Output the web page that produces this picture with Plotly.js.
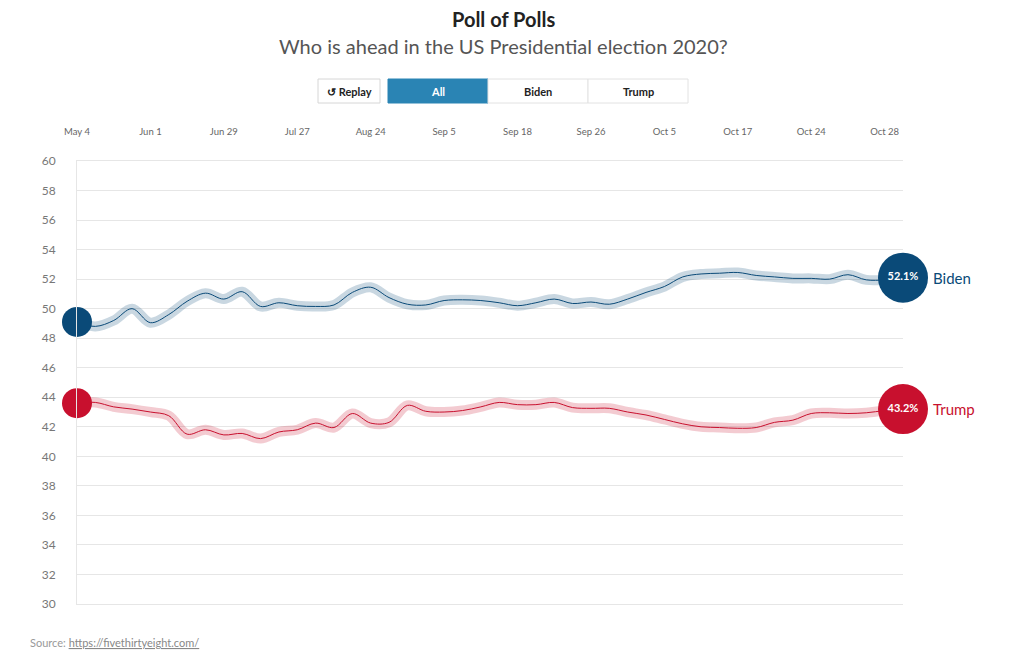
<!DOCTYPE html>
<html>
<head>
<meta charset="utf-8">
<script src="https://cdn.plot.ly/plotly-3.0.1.min.js"></script>
<style>
  html, body { margin: 0; padding: 0; background: #fff; }
  #chart { width: 1020px; height: 650px; }
</style>
</head>
<body>
<div id="chart"></div>
<script>
// ---- data ----
const pointIndex = [0,1,2,3,4,5,6,7,8,9,10,11,12,13,14,15,16,17,18,19,20,21,22,23,24,25,26,27,28,29,30,31,32,33,34,35,36,37,38,39,40,41,42,43,44,45];
const bidenValues = [49.1,48.8,49.2,50.0,49.05,49.6,50.5,51.05,50.65,51.15,50.15,50.4,50.2,50.15,50.25,51.1,51.45,50.75,50.3,50.25,50.55,50.6,50.55,50.4,50.2,50.4,50.65,50.35,50.45,50.3,50.65,51.1,51.5,52.15,52.35,52.4,52.45,52.25,52.15,52.05,52.05,52.0,52.3,51.95,51.95,52.1];
const trumpValues = [43.6,43.65,43.35,43.2,43.0,42.75,41.5,41.8,41.45,41.55,41.2,41.65,41.8,42.25,41.95,42.9,42.25,42.3,43.45,43.05,43.0,43.1,43.35,43.65,43.5,43.5,43.65,43.3,43.25,43.25,43.0,42.8,42.5,42.2,42.0,41.95,41.9,41.95,42.3,42.45,42.9,42.95,42.9,42.95,43.1,43.2];
const tickPositions = [0,4,8,12,16,20,24,28,32,36,40,44];
const tickLabels = ["May 4","Jun 1","Jun 29","Jul 27","Aug 24","Sep 5","Sep 18","Sep 26","Oct 5","Oct 17","Oct 24","Oct 28"];
const candidates = ["Biden","Trump"];
const buttonLabels = ["\u21BA Replay","All","Biden","Trump"];
const sourceUrl = "https://fivethirtyeight.com/";

// ---- styles ----
const BLUE = "#0a4a78", BLUE_HALO = "rgba(10,74,120,0.22)";
const RED = "#c8102e", RED_HALO = "rgba(200,16,46,0.22)";
const FONT = "Lato, 'Noto Sans', sans-serif";

const series = [
  {name: candidates[0], y: bidenValues, color: BLUE, halo: BLUE_HALO},
  {name: candidates[1], y: trumpValues, color: RED, halo: RED_HALO}
];

const last = pointIndex.length - 1;
const traces = [];
series.forEach(s => {
  traces.push({x: pointIndex, y: s.y, type: "scatter", mode: "lines",
    line: {color: s.halo, width: 10, shape: "spline", smoothing: 1},
    hoverinfo: "skip", showlegend: false, cliponaxis: false});
});
series.forEach(s => {
  traces.push({x: pointIndex, y: s.y, type: "scatter", mode: "lines", name: s.name,
    line: {color: s.color, width: 1, shape: "spline", smoothing: 1},
    showlegend: false, cliponaxis: false});
});
series.forEach(s => {
  traces.push({x: [pointIndex[0]], y: [s.y[0]], type: "scatter", mode: "markers",
    marker: {color: s.color, size: 30, line: {width: 0}},
    showlegend: false, cliponaxis: false, hoverinfo: "skip"});
  traces.push({x: [pointIndex[last]], y: [s.y[last]], type: "scatter", mode: "markers+text",
    marker: {color: s.color, size: 50, line: {width: 0}},
    text: [s.y[last].toFixed(1) + "%"], textposition: "middle center",
    textfont: {family: FONT, size: 11, color: "#ffffff", weight: "bold"},
    showlegend: false, cliponaxis: false, hoverinfo: "skip"});
});

// paper coordinate helpers (plot area: x 77..903, y 161..604)
const L = 77, R = 903, T = 161, B = 604;
const px = v => (v - L) / (R - L);
const py = v => (B - v) / (B - T);

const shapes = [];
const annotations = [];

// buttons
const btns = [
  {x0: 318, x1: 380, fill: "#ffffff", line: "#d6d6d6", color: "#222"},
  {x0: 388, x1: 488, fill: "#2a84b4", line: "#2a84b4", color: "#ffffff"},
  {x0: 488, x1: 588, fill: "#ffffff", line: "#e2e2e2", color: "#222"},
  {x0: 588, x1: 688, fill: "#ffffff", line: "#e2e2e2", color: "#222"}
];
btns.forEach((b, i) => {
  shapes.push({type: "rect", xref: "paper", yref: "paper",
    x0: px(b.x0), x1: px(b.x1), y0: py(103), y1: py(79),
    fillcolor: b.fill, line: {color: b.line, width: 1}, layer: "above"});
  annotations.push({xref: "paper", yref: "paper", x: px((b.x0 + b.x1) / 2), y: py(91.5),
    xanchor: "center", yanchor: "middle", showarrow: false,
    text: "<b>" + buttonLabels[i] + "</b>",
    font: {family: FONT, size: 11, color: b.color}});
});

// titles
annotations.push({xref: "paper", yref: "paper", x: px(503), y: py(19), xanchor: "center", yanchor: "middle",
  showarrow: false, text: "<b>Poll of Polls</b>", font: {family: FONT, size: 20, color: "#222"}});
annotations.push({xref: "paper", yref: "paper", x: px(503), y: py(46), xanchor: "center", yanchor: "middle",
  showarrow: false, text: "Who is ahead in the US Presidential election 2020?", font: {family: FONT, size: 20, color: "#555"}});

// source
annotations.push({xref: "paper", yref: "paper", x: px(28), y: py(642), xanchor: "left", yanchor: "middle",
  showarrow: false, text: "Source: <a href='" + sourceUrl + "' style='color:#888;text-decoration:underline'>" + sourceUrl + "</a>",
  font: {family: FONT, size: 11, color: "#999"}});

// end labels
series.forEach(s => {
  annotations.push({xref: "x", yref: "y", x: pointIndex[last], y: s.y[last], xanchor: "left", yanchor: "middle",
    xshift: 28, showarrow: false, text: s.name, font: {family: FONT, size: 15, color: s.color}});
});

const layout = {
  width: 1020, height: 650,
  margin: {l: L, r: 1020 - R, t: T, b: 650 - B, pad: 0},
  paper_bgcolor: "#ffffff", plot_bgcolor: "#ffffff",
  font: {family: FONT, color: "#666"},
  xaxis: {range: [pointIndex[0], pointIndex[last]], side: "top", tickmode: "array",
    tickvals: tickPositions, ticktext: tickLabels, showgrid: false, zeroline: false,
    showline: true, mirror: true, linecolor: "#e6e6e6", linewidth: 1, ticks: "", ticklabelstandoff: 21,
    tickfont: {family: FONT, size: 9.5, color: "#666"}, fixedrange: true, automargin: false},
  yaxis: {range: [30, 60], tickmode: "linear", tick0: 30, dtick: 2,
    showgrid: true, gridcolor: "#e6e6e6", gridwidth: 1, zeroline: false,
    showline: true, linecolor: "#e6e6e6", linewidth: 1, ticks: "", ticklabelstandoff: 18,
    tickfont: {family: FONT, size: 12, color: "#777"}, fixedrange: true, automargin: false},
  shapes: shapes,
  annotations: annotations,
  hovermode: "closest",
  showlegend: false
};

Plotly.newPlot("chart", traces, layout, {displayModeBar: false, responsive: false});
</script>
</body>
</html>
